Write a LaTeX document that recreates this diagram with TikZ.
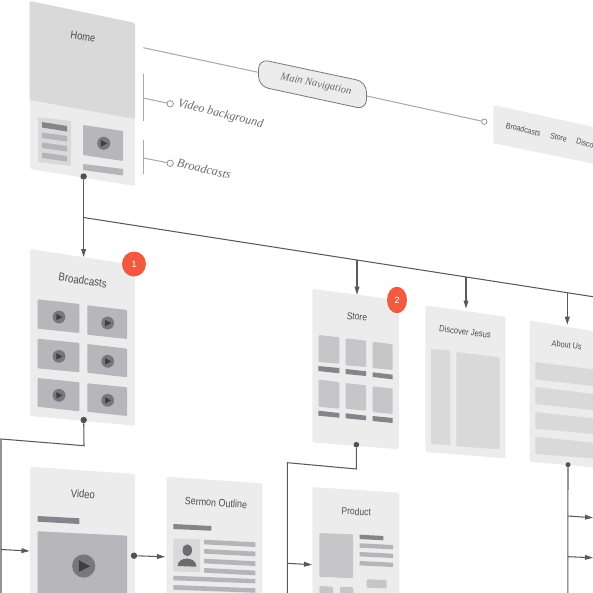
\documentclass[tikz,border=0pt]{standalone}
\usepackage{fontspec}
\setmainfont{Liberation Sans}
\newfontfamily\serifit{Liberation Serif}
\newfontfamily\lblfont[FakeStretch=0.85]{Liberation Sans}
\usetikzlibrary{arrows.meta,shapes.geometric}
\definecolor{panel}{HTML}{ECECEC}
\definecolor{shadecol}{HTML}{D9D9DA}
\definecolor{thumb}{HTML}{B6B6BB}
\definecolor{barmid}{HTML}{B4B4B9}
\definecolor{bardark}{HTML}{84848A}
\definecolor{imgmid}{HTML}{C6C6C8}
\definecolor{btn}{HTML}{77777C}
\definecolor{tri}{HTML}{3F3F43}
\definecolor{wire}{HTML}{5A5A5E}
\definecolor{lead}{HTML}{ABABAB}
\definecolor{ink}{HTML}{4E4E52}
\definecolor{badge}{HTML}{F15A3F}
\tikzset{
  x=1pt,y=-1pt,
  pfill/.style={fill=panel,rounded corners=1.5pt},
  sfill/.style={fill=shadecol,rounded corners=1pt},
  tfill/.style={fill=thumb,rounded corners=0.8pt},
  bmid/.style={fill=barmid},
  bdark/.style={fill=bardark},
  imgbox/.style={fill=imgmid,rounded corners=1pt},
  lbl/.style={text=ink,inner sep=0pt},
  note/.style={text=ink!85,inner sep=0pt},
  wireline/.style={draw=wire,line width=1.05pt},
  leadline/.style={draw=lead,line width=1.05pt},
  arrowline/.style={wireline,-{Triangle[length=8pt,width=4.8pt]}},
  dotnode/.style={circle,fill=wire!90!black,minimum size=6.4pt,inner sep=0pt},
  ringnode/.style={circle,draw=lead!80!black,fill=white,line width=0.7pt,minimum size=6.4pt,inner sep=0pt},
  badgenode/.style={fill=badge,ellipse,inner sep=0pt},
}
\newcommand{\lf}[1]{\lblfont\fontsize{#1}{12}\selectfont}
\newcommand{\nf}[1]{\serifit\itshape\fontsize{#1}{14}\selectfont}
\newcommand{\qd}[5]{\fill[#1] #2 -- #3 -- #4 -- #5 -- cycle;}
\newcommand{\playbtn}[3]{%
  \fill[btn] (#1,#2) circle [radius=#3];
  \fill[tri] (#1-0.42*#3,#2-0.5*#3) -- (#1+0.55*#3,#2+0.03*#3) -- (#1-0.42*#3,#2+0.5*#3) -- cycle;}
\begin{document}
\begin{tikzpicture}
\useasboundingbox (0,0) rectangle (593,593);
\clip (0,0) rectangle (593,593);

%% Home
\qd{pfill}{(29.5,1)}{(135,23)}{(135,186)}{(30,169)}
\fill[fill=shadecol,rounded corners=1.5pt] (29.5,1) -- (135,23) -- (135,119) -- (29.7,100) -- cycle;
\node[lbl,font=\lf{11},rotate=-8] (home) at (83,36.5) {Home};
\qd{sfill}{(38,117)}{(71,121)}{(71,166)}{(38,162)}
\qd{bdark}{(42,122)}{(67,126)}{(67,131.5)}{(42,127.5)}
\qd{bmid}{(42,132.5)}{(67,136)}{(67,141.5)}{(42,138)}
\qd{bmid}{(42,142.5)}{(67,146)}{(67,151.5)}{(42,148)}
\qd{bmid}{(42,152.5)}{(67,156)}{(67,161.5)}{(42,158)}
\qd{tfill}{(83,125)}{(123,131)}{(123,161)}{(83,155)}
\playbtn{103.7}{143.3}{6.5}
\qd{bmid}{(83,164)}{(123,169)}{(123,175.5)}{(83,170)}

%% Nav annotation
\coordinate (navstart) at (143.3,47.7);
\coordinate (navleft) at (258.2,72.3);
\coordinate (navright) at (366.7,96);
\node[ringnode,minimum size=5.4pt] (navring) at (484.3,121.7) {};
\draw[leadline] (navstart) -- (navleft);
\draw[leadline] (navright) -- (navring);
\draw[fill=panel,draw=btn,line width=0.8pt,rounded corners=10pt] (258.5,59) -- (366.5,82) -- (366.5,109.5) -- (258.5,86.2) -- cycle;
\node[note,font=\nf{10.6},rotate=-12] (navlabel) at (316,84.5) {Main Navigation};

\coordinate (va) at (143.3,74); \coordinate (vb) at (143.3,121.5); \coordinate (vj) at (143.3,98);
\node[ringnode] (vring) at (170.2,103.8) {};
\draw[leadline] (va) -- (vb);
\draw[leadline] (vj) -- (vring);
\node[note,font=\nf{12.1},rotate=-14] (vlabel) at (220.5,114.3) {Video background};
\coordinate (ba) at (143.3,140.5); \coordinate (bb) at (143.3,174); \coordinate (bj) at (143.3,158);
\node[ringnode] (bring) at (170.2,163.3) {};
\draw[leadline] (ba) -- (bb);
\draw[leadline] (bj) -- (bring);
\node[note,font=\nf{12.3},rotate=-13] (blabel) at (204,168.7) {Broadcasts};

%% Nav panel
\qd{pfill}{(493.3,105)}{(600,128.4)}{(600,165)}{(493.3,143.3)}
\node[lbl,font=\lf{8.3},rotate=-13.5] (nb) at (523.3,129.5) {Broadcasts};
\node[lbl,font=\lf{8.3},rotate=-13.5] (ns) at (558.7,137.3) {Store};
\node[lbl,font=\lf{8.3},rotate=-13.5,anchor=west] (nd) at (576.3,141) {Disco};

%% Broadcasts
\qd{pfill}{(30,249)}{(135,265)}{(135,425.7)}{(30,416)}
\node[lbl,font=\lf{11.4},rotate=-8] (broad) at (82.7,280.3) {Broadcasts};
\qd{tfill}{(37.7,299.3)}{(79.3,304)}{(79.3,333)}{(37.7,328.7)}
\qd{tfill}{(87.3,305.3)}{(127,310)}{(127,339)}{(87.3,334.7)}
\qd{tfill}{(37.7,338.7)}{(79.3,343)}{(79.3,372.3)}{(37.7,368.3)}
\qd{tfill}{(87.3,344)}{(127,348.7)}{(127,377.3)}{(87.3,372.7)}
\qd{tfill}{(37.7,378)}{(79.3,382.3)}{(79.3,411.3)}{(37.7,406.7)}
\qd{tfill}{(87.3,383.3)}{(127,387.3)}{(127,416)}{(87.3,411.7)}
\playbtn{59}{317}{6.4}\playbtn{107.7}{323}{6.4}
\playbtn{59}{356.3}{6.4}\playbtn{107.7}{361.3}{6.4}
\playbtn{59}{395.3}{6.4}\playbtn{107.7}{400.3}{6.4}
\node[badgenode,minimum width=24pt,minimum height=25pt,font=\fontsize{9}{10}\selectfont,text=white] (b1) at (134,264) {1};

%% Video
\qd{pfill}{(30,466.7)}{(135,474)}{(135,610)}{(30,610)}
\node[lbl,font=\lf{11.2},rotate=-4] (video) at (83,494) {Video};
\qd{bdark}{(37.7,516)}{(79.3,518.3)}{(79.3,524)}{(37.7,521.7)}
\qd{tfill}{(37.7,531.3)}{(127,535.7)}{(127,610)}{(37.7,610)}
\playbtn{83.7}{566}{11.6}

%% Sermon Outline
\qd{pfill}{(166.3,476.7)}{(262.3,483.3)}{(262.3,610)}{(166.3,610)}
\node[lbl,font=\lf{10.6},rotate=-4] (sermon) at (216,502.7) {Sermon Outline};
\qd{bdark}{(173.3,524)}{(211.3,526)}{(211.3,530.7)}{(173.3,529)}
\qd{sfill}{(173.3,538.3)}{(200,539.3)}{(200,572.3)}{(173.3,571.3)}
\fill[btn!90!black] (187.3,550.3) ellipse [x radius=4.7,y radius=6];
\fill[btn!90!black] (177.5,566) .. controls (178,556) and (196,556) .. (196.5,566.7) -- cycle;
\qd{bmid}{(204,539.7)}{(255.3,542.3)}{(255.3,547)}{(204,544.3)}
\qd{bmid}{(204,549)}{(255.3,551.6)}{(255.3,556.3)}{(204,553.6)}
\qd{bmid}{(204,558.7)}{(255.3,561.3)}{(255.3,566)}{(204,563.3)}
\qd{bmid}{(204,568)}{(255.3,570.6)}{(255.3,575.3)}{(204,572.6)}
\qd{bmid}{(173.3,575.7)}{(255.3,579)}{(255.3,583.3)}{(173.3,580.3)}
\qd{bmid}{(173.3,585)}{(255.3,588.3)}{(255.3,592.7)}{(173.3,589.7)}

%% Store
\qd{pfill}{(312.3,289)}{(399,300)}{(399,449.3)}{(312.3,442.3)}
\node[lbl,font=\lf{10},rotate=-6] (store) at (357,316.7) {Store};
\qd{imgbox}{(318.7,335)}{(339.3,337.3)}{(339.3,363.7)}{(318.7,362)}
\qd{imgbox}{(345.7,338.3)}{(366,340.7)}{(366,367)}{(345.7,365.3)}
\qd{imgbox}{(372.7,341.7)}{(392.7,344.3)}{(392.7,370)}{(372.7,368)}
\qd{bdark}{(318.3,366)}{(339.3,368)}{(339.3,373.3)}{(318.3,371)}
\qd{bdark}{(345.7,369)}{(366,371.3)}{(366,376)}{(345.7,374)}
\qd{bdark}{(372.7,372.3)}{(392.7,374.7)}{(392.7,379.3)}{(372.7,377)}
\qd{imgbox}{(318.7,379.7)}{(339.3,382)}{(339.3,408.7)}{(318.7,406.7)}
\qd{imgbox}{(345.7,383)}{(366,385.3)}{(366,410.7)}{(345.7,408.7)}
\qd{imgbox}{(372.7,386.3)}{(392.7,388.7)}{(392.7,414)}{(372.7,412)}
\qd{bdark}{(318.3,410.7)}{(339.3,413)}{(339.3,417.7)}{(318.3,415.7)}
\qd{bdark}{(345.7,413.3)}{(366,415.7)}{(366,420.3)}{(345.7,418.3)}
\qd{bdark}{(372.7,416)}{(392.7,418)}{(392.7,423)}{(372.7,421)}
\node[badgenode,minimum width=20pt,minimum height=26.5pt,font=\fontsize{9}{10}\selectfont,text=white] (b2) at (397,300) {2};

%% Discover Jesus
\qd{pfill}{(425.3,305.3)}{(505.7,316.7)}{(505.7,458.3)}{(425.3,452)}
\node[lbl,font=\lf{9},rotate=-7] (disc) at (465,331.7) {Discover Jesus};
\qd{sfill}{(431,349)}{(450.3,350.7)}{(450.3,445)}{(431,444)}
\qd{sfill}{(456.3,352)}{(499.7,357.3)}{(499.7,449.3)}{(456.3,446.3)}

%% About Us
\qd{pfill}{(529.7,320.3)}{(600,332.5)}{(600,468)}{(529.7,461.7)}
\node[lbl,font=\lf{8.6},rotate=-7] (about) at (566.7,345) {About Us};
\qd{sfill}{(535.3,362)}{(600,370.2)}{(600,386.8)}{(535.3,379.3)}
\qd{sfill}{(535.3,387)}{(600,394.8)}{(600,410.8)}{(535.3,404)}
\qd{sfill}{(535.3,412)}{(600,419)}{(600,434.6)}{(535.3,428.7)}
\qd{sfill}{(535.3,436.7)}{(600,443.4)}{(600,458.8)}{(535.3,454)}

%% Product
\qd{pfill}{(312.3,487)}{(399.3,492.7)}{(399.3,610)}{(312.3,610)}
\node[lbl,font=\lf{10},rotate=-3] (product) at (356.3,511.7) {Product};
\qd{imgbox}{(319.3,533)}{(353,534.3)}{(353,578.3)}{(319.3,576.7)}
\qd{bdark}{(359.7,534.7)}{(383.3,536)}{(383.3,540.3)}{(359.7,539)}
\qd{bmid}{(359.7,543.3)}{(393,545)}{(393,549.3)}{(359.7,547.7)}
\qd{bmid}{(359.7,552)}{(393,553.7)}{(393,558)}{(359.7,556.4)}
\qd{bmid}{(359.7,561)}{(393,562.7)}{(393,567)}{(359.7,565.4)}
\qd{imgbox}{(366.7,579.3)}{(386.7,580)}{(386.7,588.3)}{(366.7,587.7)}
\qd{imgbox}{(319.3,586)}{(333,586.7)}{(333,600)}{(319.3,600)}
\qd{imgbox}{(340,586.7)}{(353.3,587.3)}{(353.3,600)}{(340,600)}

%% Connectors
\node[dotnode] (dhome) at (83.6,176.5) {};
\coordinate (jmain) at (83.6,217.5);
\coordinate (abroad) at (83.6,257);
\draw[arrowline] (dhome) -- (abroad);
\coordinate (mainend) at (600,297.8);
\draw[wireline] (jmain) -- (mainend);
\coordinate (jstore) at (357,260.2); \coordinate (astore) at (357,294.7);
\coordinate (jdisc) at (466,277.3); \coordinate (adisc) at (466,308.5);
\coordinate (jabout) at (567.3,293); \coordinate (aabout) at (567.3,324.7);
\draw[arrowline] (jstore) -- (astore);
\draw[arrowline] (jdisc) -- (adisc);
\draw[arrowline] (jabout) -- (aabout);

\node[dotnode] (dbroad) at (83.7,420) {};
\coordinate (c1) at (84,445.7); \coordinate (c2) at (1,439); \coordinate (c3) at (1,600);
\draw[wireline,line join=miter] (dbroad) -- (c1) -- (c2) -- (c3);
\coordinate (jvid) at (1,549.5); \coordinate (avid) at (29.5,551);
\draw[arrowline] (jvid) -- (avid);

\node[dotnode] (dvideo) at (134,555.7) {};
\coordinate (asermon) at (165,556.8);
\draw[arrowline] (dvideo) -- (asermon);

\node[dotnode,minimum size=5.6pt] (dstore) at (356.4,444.7) {};
\coordinate (s1) at (356.4,469); \coordinate (s2) at (287.4,462.7); \coordinate (s3) at (287.4,600);
\draw[wireline,line join=miter] (dstore) -- (s1) -- (s2) -- (s3);
\coordinate (jprod) at (287.4,563.3); \coordinate (aprod) at (312,564.7);
\draw[arrowline] (jprod) -- (aprod);

\node[dotnode,minimum size=5pt] (dabout) at (568,464.7) {};
\coordinate (a3) at (567.8,600);
\draw[wireline] (dabout) -- (a3);
\coordinate (j1) at (567.8,516); \coordinate (t1) at (593,517.7);
\coordinate (j2) at (567.8,556.7); \coordinate (t2) at (593,557.7);
\draw[arrowline] (j1) -- (t1);
\draw[arrowline] (j2) -- (t2);
\end{tikzpicture}
\end{document}
